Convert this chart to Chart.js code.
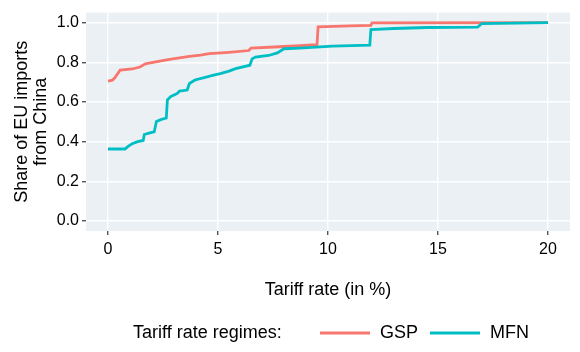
<!DOCTYPE html>
<html>
<head>
<meta charset="utf-8">
<script src="https://cdn.jsdelivr.net/npm/chart.js@4"></script>
<style>
  html, body { margin: 0; padding: 0; background: #fff; }
</style>
</head>
<body>
<canvas id="myChart" width="580" height="352"></canvas>
<script>
// data (cumulative share of imports up to each tariff rate)
var gspX = [0, 0.2, 0.3, 0.55, 1.1, 1.45, 1.7, 2.1, 2.8, 3.7, 4.2, 4.6, 5.5, 6.4, 6.5, 7.8, 8.7, 9.5, 9.55, 11.0, 11.95, 12.0, 20];
var gspY = [0.705, 0.71, 0.72, 0.76, 0.766, 0.776, 0.792, 0.8, 0.815, 0.83, 0.836, 0.843, 0.85, 0.859, 0.871, 0.878, 0.883, 0.889, 0.978, 0.983, 0.986, 0.998, 1.0];
var mfnX = [0, 0.77, 0.9, 1.1, 1.35, 1.6, 1.65, 1.9, 2.1, 2.2, 2.4, 2.65, 2.7, 2.85, 3.0, 3.15, 3.25, 3.6, 3.7, 3.95, 4.2, 4.5, 4.8, 5.1, 5.5, 5.8, 6.45, 6.55, 6.7, 7.3, 7.7, 8.0, 8.7, 10.2, 11.9, 11.95, 13.0, 14.5, 16.8, 17.0, 20];
var mfnY = [0.363, 0.363, 0.375, 0.39, 0.4, 0.406, 0.436, 0.444, 0.449, 0.502, 0.511, 0.519, 0.61, 0.627, 0.635, 0.643, 0.655, 0.66, 0.693, 0.71, 0.718, 0.726, 0.735, 0.743, 0.755, 0.768, 0.785, 0.817, 0.826, 0.834, 0.847, 0.868, 0.871, 0.881, 0.886, 0.965, 0.97, 0.975, 0.977, 0.995, 1.0];
var xTicks = [0, 5, 10, 15, 20];
var yTicks = [0, 0.1, 0.2, 0.3, 0.4, 0.5, 0.6, 0.7, 0.8, 0.9, 1.0];
var seriesNames = ['GSP', 'MFN'];
var seriesColors = ['#F8766D', '#00BFC4'];
var legendTitle = 'Tariff rate regimes:';

function toPoints(xs, ys) {
    return xs.map(function (x, i) { return { x: x, y: ys[i] }; });
}

function isMajorY(v) {
    return Math.round(v * 10) % 2 === 0;
}

var panelBg = {
    id: 'panelBg',
    beforeDraw: function (chart) {
        var a = chart.chartArea, c = chart.ctx;
        c.save();
        c.fillStyle = '#EBF0F5';
        c.fillRect(a.left, a.top, a.right - a.left, a.bottom - a.top);
        c.restore();
    }
};

// ggplot-style legend with a title on the left
var bottomLegend = {
    id: 'bottomLegend',
    afterDraw: function (chart) {
        var c = chart.ctx;
        var y = 333;
        c.save();
        c.font = '18px "Liberation Sans", Arial, sans-serif';
        c.fillStyle = '#000';
        c.textBaseline = 'middle';
        c.textAlign = 'left';
        c.fillText(legendTitle, 133, y);
        var x = 320;
        seriesNames.forEach(function (name, i) {
            c.strokeStyle = seriesColors[i];
            c.lineWidth = 3;
            c.beginPath();
            c.moveTo(x, y);
            c.lineTo(x + 50, y);
            c.stroke();
            c.fillText(name, x + 60, y);
            x += 60 + c.measureText(name).width + 12;
        });
        c.restore();
    }
};

var ctx = document.getElementById('myChart').getContext('2d');
var myChart = new Chart(ctx, {
    type: 'line',
    data: {
        datasets: [{
            label: seriesNames[0],
            data: toPoints(gspX, gspY),
            borderColor: seriesColors[0],
            borderWidth: 2.8,
            tension: 0,
            pointRadius: 0,
            fill: false,
            order: 1
        }, {
            label: seriesNames[1],
            data: toPoints(mfnX, mfnY),
            borderColor: seriesColors[1],
            borderWidth: 2.8,
            tension: 0,
            pointRadius: 0,
            fill: false,
            order: 0
        }]
    },
    options: {
        responsive: false,
        animation: false,
        devicePixelRatio: 1,
        layout: { padding: { top: 10, right: 10, bottom: 46, left: 0 } },
        plugins: {
            legend: { display: false },
            tooltip: { enabled: false }
        },
        scales: {
            x: {
                type: 'linear',
                min: -1,
                max: 21,
                afterBuildTicks: function (scale) {
                    scale.ticks = xTicks.map(function (v) { return { value: v }; });
                },
                afterFit: function (scale) { scale.height = 75; },
                border: { display: false },
                grid: {
                    color: '#ffffff',
                    lineWidth: 1.4,
                    tickLength: 4,
                    tickColor: '#555555'
                },
                ticks: {
                    color: '#000',
                    padding: 5,
                    maxRotation: 0,
                    font: { family: '"Liberation Sans", Arial, sans-serif', size: 16 },
                    callback: function (v) { return v; }
                },
                title: {
                    display: true,
                    text: 'Tariff rate (in %)',
                    color: '#000',
                    padding: { top: 0, bottom: 5 },
                    font: { family: '"Liberation Sans", Arial, sans-serif', size: 18 }
                }
            },
            y: {
                type: 'linear',
                min: -0.05,
                max: 1.05,
                afterBuildTicks: function (scale) {
                    scale.ticks = yTicks.map(function (v) { return { value: v }; });
                },
                afterFit: function (scale) { scale.width = 86; },
                border: { display: false },
                grid: {
                    color: '#ffffff',
                    lineWidth: function (c) { return isMajorY(c.tick.value) ? 1.4 : 0.8; },
                    tickLength: 4,
                    tickColor: function (c) { return isMajorY(c.tick.value) ? '#555555' : 'rgba(0,0,0,0)'; }
                },
                ticks: {
                    color: '#000',
                    padding: 3,
                    font: { family: '"Liberation Sans", Arial, sans-serif', size: 16 },
                    callback: function (v) { return isMajorY(v) ? v.toFixed(1) : ''; }
                },
                title: {
                    display: true,
                    text: ['Share of EU imports', 'from China'],
                    color: '#000',
                    padding: { top: 13, bottom: 0 },
                    font: { family: '"Liberation Sans", Arial, sans-serif', size: 18, lineHeight: 1.05 }
                }
            }
        }
    },
    plugins: [panelBg, bottomLegend]
});
</script>
</body>
</html>
